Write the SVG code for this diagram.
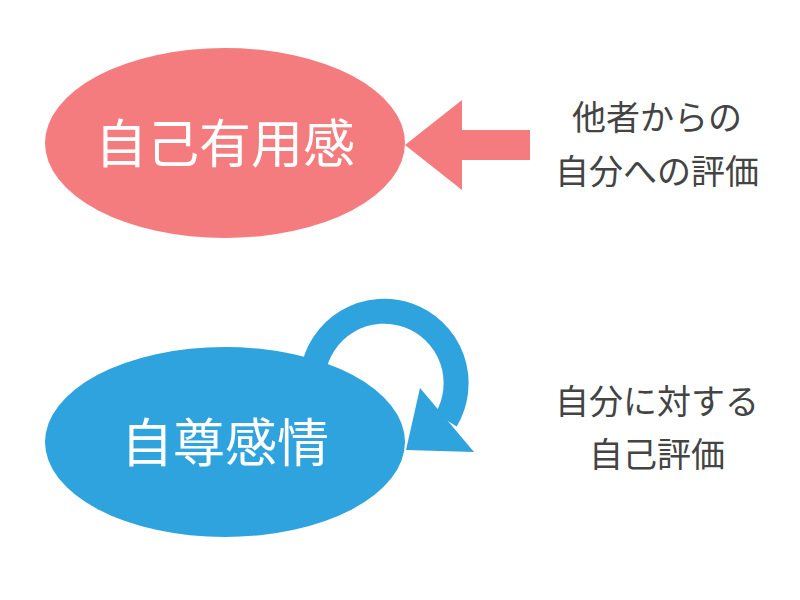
<svg xmlns="http://www.w3.org/2000/svg" width="800" height="600" viewBox="0 0 800 600">
<style>
.t{font-family:"Noto Sans CJK JP","Noto Sans CJK SC",sans-serif;text-anchor:middle}
.big{font-size:52px;fill:#fff}
.sm{font-size:34px;fill:#444}
</style>
<rect width="800" height="600" fill="#fff"/>
<g id="connectors">
<polygon points="405,145 462,100 462,130 530,130 530,160 462,160 462,190" fill="#F47C7E"/>
<path d="M313,372 A72,72 0 1 1 446,420" fill="none" stroke="#2EA3DD" stroke-width="25"/>
<polygon points="420,388 474,452 406,450" fill="#2EA3DD"/>
</g>
<g id="n1">
<ellipse cx="225" cy="143" rx="180" ry="95" fill="#F47C7E"/>
<text class="t big" x="225" y="163">自己有用感</text>
</g>
<g id="n2">
<ellipse cx="225" cy="442" rx="180" ry="95" fill="#2EA3DD"/>
<text class="t big" x="225" y="462">自尊感情</text>
</g>
<g id="l1">
<text class="t sm" x="657" y="130">他者からの</text>
<text class="t sm" x="657" y="184">自分への評価</text>
</g>
<g id="l2">
<text class="t sm" x="657" y="414">自分に対する</text>
<text class="t sm" x="657" y="467">自己評価</text>
</g>
</svg>
